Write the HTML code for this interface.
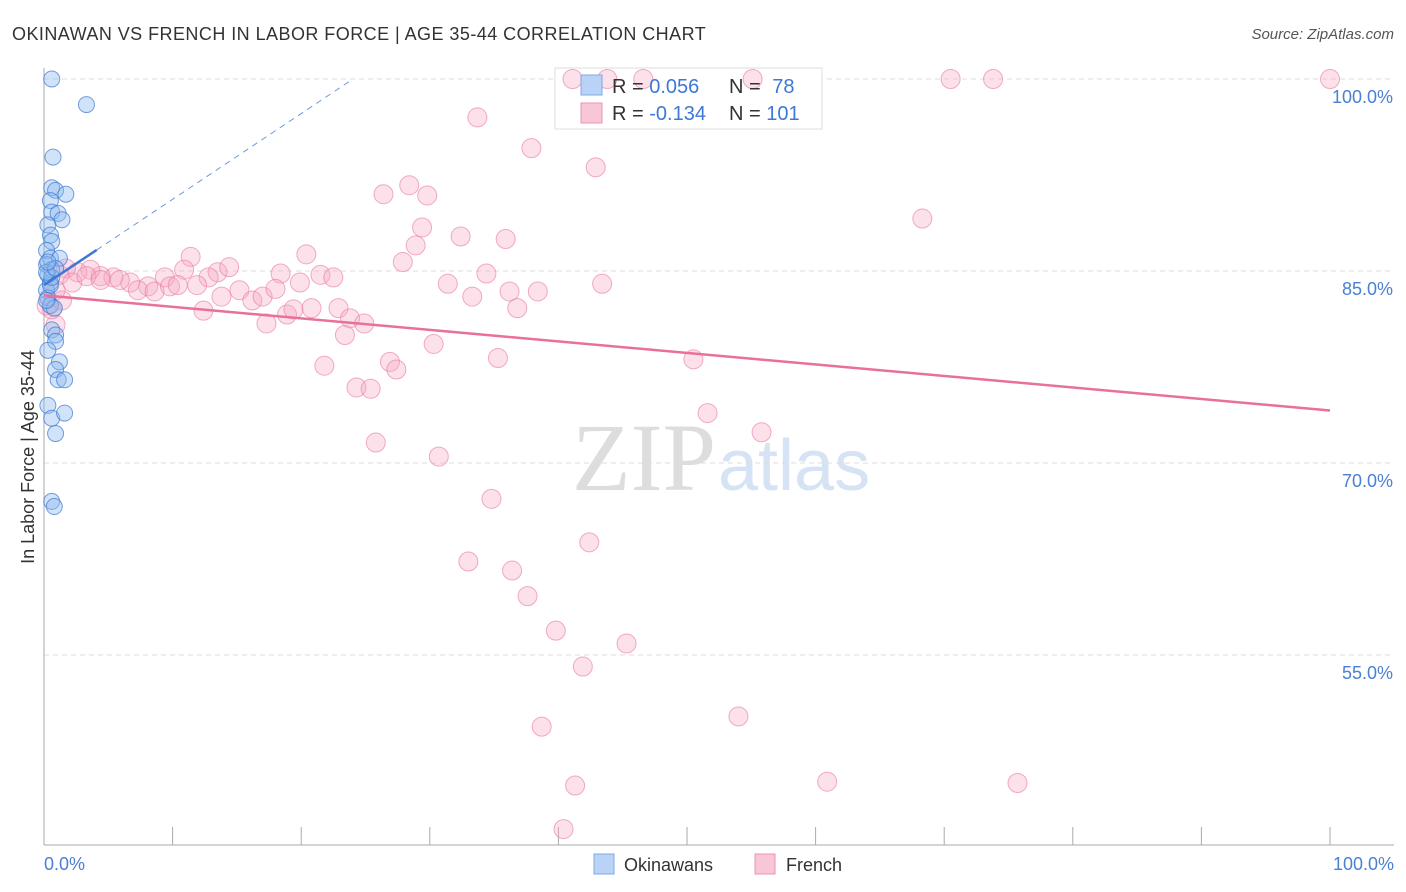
<!DOCTYPE html>
<html><head><meta charset="utf-8"><style>
body{margin:0;background:#fff;font-family:"Liberation Sans",sans-serif;}
svg{display:block}
</style></head><body>
<svg id="chart" width="1406" height="892" font-family="Liberation Sans, sans-serif">
<text x="12" y="40" font-size="18" fill="#333" letter-spacing="0.45">OKINAWAN VS FRENCH IN LABOR FORCE | AGE 35-44 CORRELATION CHART</text>
<text x="1394" y="39" font-size="15" fill="#555" text-anchor="end" font-style="italic">Source: ZipAtlas.com</text>
<text x="716" y="490" font-size="96" fill="#ddd" text-anchor="end" font-family="Liberation Serif, serif">ZIP</text>
<text x="718" y="490" font-size="72" fill="#d6e3f5">atlas</text>
<g id="grid"></g>
<g id="axes"></g>
<g>
<rect x="555" y="68" width="267" height="61" fill="#fff" stroke="#ddd"/>
</g>
<g id="marks"></g>
<g>
<rect x="581" y="75" width="21" height="20" fill="#b8d3f5" stroke="#7fa8e0"/>
<rect x="581" y="103" width="21" height="20" fill="#f9c6d6" stroke="#eb94b0"/>
<text x="612" y="93" font-size="20" fill="#333">R = <tspan fill="#3d78d6">0.056</tspan></text>
<text x="729" y="93" font-size="20" fill="#333">N = <tspan fill="#3d78d6" dx="6">78</tspan></text>
<text x="612" y="120" font-size="20" fill="#333">R = <tspan fill="#3d78d6">-0.134</tspan></text>
<text x="729" y="120" font-size="20" fill="#333">N = <tspan fill="#3d78d6">101</tspan></text>
</g>
<text transform="translate(34,457) rotate(-90)" font-size="18" fill="#333" text-anchor="middle">In Labor Force | Age 35-44</text>
<text x="44" y="870" font-size="18" fill="#4a7fd4">0.0%</text>
<text x="1394" y="870" font-size="18" fill="#4a7fd4" text-anchor="end">100.0%</text>
<g>
<rect x="594" y="854" width="20" height="20" fill="#b8d3f5" stroke="#7fa8e0"/>
<text x="624" y="871" font-size="18" fill="#333">Okinawans</text></g>
<g>
<rect x="755" y="854" width="20" height="20" fill="#f9c6d6" stroke="#eb94b0"/>
<text x="786" y="871" font-size="18" fill="#333">French</text></g>
</svg>
<script>
const yTicks=[100,85,70,55];
const xTicks=[0,10,20,30,40,50,60,70,80,90,100];
const blueX=[.6,3.3,.7,.6,.9,1.7,.5,.6,1.1,1.4,.3,.5,.6,.2,.5,1.2,.2,.6,.3,.5,.2,.3,.5,.8,.6,.9,.9,.3,1.2,.9,1.1,1.6,.3,.6,1.6,.9,.6,.8,.5,.6,.2,.9,.2,.3];
const blueY=[100,98,93.9,91.5,91.3,91,90.5,89.6,89.5,89,88.6,87.8,87.3,86.6,86,86,85.5,85.1,84.7,84.1,83.5,82.9,82.3,82.1,80.4,80,79.5,78.8,77.9,77.3,76.5,76.5,74.5,73.5,73.9,72.3,67,66.6,83.9,84.5,84.9,85.2,82.7,85.7];
const pinkX=[41.1,43.8,46.6,55.1,70.5,73.8,100,33.7,37.9,42.9,26.4,28.4,29.8,68.3,29.4,32.4,35.9,28.9,20.4,27.9,11.4,31.4,33.3,34.4,36.2,38.4,43.4,36.8,10.9,13.5,14.4,18.4,19.9,21.5,22.5,12.8,9.4,8.1,6.7,5.4,4.4,3.6,2.6,1.7,1.2,5.9,7.3,8.6,9.8,10.4,11.9,12.4,13.8,15.2,16.2,17,18,17.3,18.9,19.4,20.8,22.9,23.8,24.9,23.4,21.8,26.9,27.4,24.3,25.4,30.3,35.3,50.5,51.6,55.8,25.8,30.7,34.8,42.4,33,36.4,37.6,39.8,45.3,41.9,38.7,54,41.3,60.9,75.7,40.4,.9,.6,1.4,2.2,3.3,.9,.2,4.4];
const pinkY=[100,100,100,100,100,100,100,97,94.6,93.1,91,91.7,90.9,89.1,88.4,87.7,87.5,87,86.3,85.7,86.1,84,83,84.8,83.4,83.4,84,82.1,85.1,84.9,85.3,84.8,84.1,84.7,84.5,84.5,84.5,83.8,84.1,84.5,84.6,85.1,84.9,85.2,84.7,84.3,83.5,83.4,83.8,83.9,83.9,81.9,83,83.5,82.7,83,83.6,80.9,81.6,82,82.1,82.1,81.3,80.9,80,77.6,77.9,77.3,75.9,75.8,79.3,78.2,78.1,73.9,72.4,71.6,70.5,67.2,63.8,62.3,61.6,59.6,56.9,55.9,54.1,49.4,50.2,44.8,45.1,45,41.4,80.8,82,82.7,84.1,84.6,83.5,82.3,84.3];
const pinkTrend=[83.1,74.1];
const blueTrend=[83.9,0.67];
const NS='http://www.w3.org/2000/svg';
const sx=v=>44+v*12.86, sy=v=>79+(100-v)*12.8;
function mk(tag,attrs,parent){const e=document.createElementNS(NS,tag);for(const k in attrs)e.setAttribute(k,attrs[k]);parent.appendChild(e);return e;}
const grid=document.getElementById('grid'),axes=document.getElementById('axes'),marks=document.getElementById('marks');
yTicks.forEach(t=>{
 const l=mk('line',{x1:44,x2:1394,y1:sy(t),y2:sy(t),stroke:'#ddd','stroke-dasharray':'5,4'},grid);
 
 
 const tx=mk('text',{x:1393,y:sy(t)+24,'font-size':18,fill:'#4a7fd4','text-anchor':'end'},axes);
 tx.textContent=t.toFixed(1)+'%';
 
 
});
const ax=mk('line',{x1:44,x2:44,y1:68,y2:845,stroke:'#aaa'},axes);


const bx=mk('line',{x1:44,x2:1394,y1:845,y2:845,stroke:'#aaa'},axes);


xTicks.forEach(t=>{
 const l=mk('line',{x1:sx(t),x2:sx(t),y1:827,y2:845,stroke:'#aaa'},axes);
 
 
});
pinkX.forEach((x,i)=>{
 const c=mk('circle',{cx:sx(x),cy:sy(pinkY[i]),r:9.5,fill:'rgba(246,170,195,0.35)',stroke:'rgba(232,120,160,0.6)','stroke-width':1},marks);
 
 
});
blueX.forEach((x,i)=>{
 const c=mk('circle',{cx:sx(x),cy:sy(blueY[i]),r:8,fill:'rgba(140,185,240,0.4)',stroke:'rgba(60,120,210,0.7)','stroke-width':1},marks);
 
 
});
const pt=mk('line',{x1:sx(0),y1:sy(pinkTrend[0]),x2:sx(100),y2:sy(pinkTrend[1]),stroke:'#e8709a','stroke-width':2.5},marks);


const bt=mk('line',{x1:sx(0),y1:sy(blueTrend[0]),x2:sx(4.1),y2:sy(blueTrend[0]+blueTrend[1]*4.1),stroke:'#3d78d6','stroke-width':2.5},marks);


const xe=(100-blueTrend[0])/blueTrend[1];
const bd=mk('line',{x1:sx(4.1),y1:sy(blueTrend[0]+blueTrend[1]*4.1),x2:sx(xe),y2:sy(100),stroke:'#6b9be0','stroke-width':1,'stroke-dasharray':'6,5'},marks);


</script>
</body></html>
